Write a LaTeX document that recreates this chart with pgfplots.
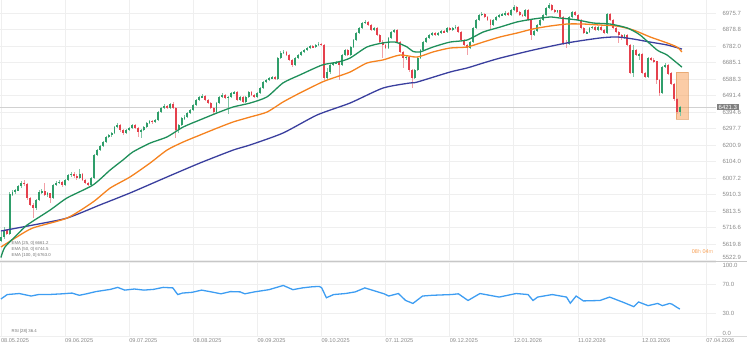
\documentclass[border=0pt]{standalone}
\usepackage{pgfplots}
\pgfplotsset{compat=1.18}
\usepackage{pgfplotstable}
\usepackage{fontspec}
\setmainfont{Liberation Sans}
\definecolor{cup}{HTML}{2F9E6A}
\definecolor{cdn}{HTML}{E5414D}
\definecolor{magreen}{HTML}{1F8F5A}
\definecolor{maorange}{HTML}{F5821F}
\definecolor{manavy}{HTML}{3A3F9E}
\definecolor{rsiblue}{HTML}{3D9DF2}
\definecolor{gridc}{HTML}{EFEFEF}
\definecolor{lblc}{HTML}{8A8A8A}
\definecolor{boxc}{HTML}{F7A35C}

\pgfplotstableread{
i o h l c
0 5640 5690 5630 5661
1 5661 5720 5650 5700
2 5700 5710 5670 5680
3 5680 5925 5675 5910
4 5910 5935 5900 5925
5 5925 5945 5915 5935
6 5935 5968 5928 5960
7 5960 5990 5950 5978
8 5978 5995 5960 5972
9 5972 5980 5880 5890
10 5890 5898 5840 5849
11 5849 5860 5770 5831
12 5831 5885 5820 5878
13 5878 5935 5870 5925
14 5925 5945 5912 5930
15 5930 5975 5900 5907
16 5907 5925 5895 5915
17 5915 5920 5860 5890
18 5890 5972 5885 5966
19 5966 5988 5958 5978
20 5978 5995 5970 5984
21 5984 5990 5955 5966
22 5966 6002 5960 5995
23 5995 6033 5988 6025
24 6025 6042 6015 6031
25 6031 6040 6010 6020
26 6020 6028 5998 6007
27 6007 6060 6000 6031
28 6031 6036 5990 5995
29 5995 6002 5970 5978
30 5978 5985 5960 5970
31 5970 6012 5962 6007
32 6007 6150 6000 6142
33 6142 6180 6135 6172
34 6172 6200 6165 6195
35 6195 6225 6188 6218
36 6218 6255 6210 6248
37 6248 6268 6240 6260
38 6260 6280 6250 6271
39 6271 6312 6265 6307
40 6307 6330 6300 6318
41 6318 6322 6280 6289
42 6289 6295 6262 6271
43 6271 6295 6265 6289
44 6289 6308 6282 6301
45 6301 6326 6295 6318
46 6318 6322 6295 6301
47 6301 6306 6250 6277
48 6277 6296 6240 6289
49 6289 6312 6282 6307
50 6307 6338 6300 6330
51 6330 6350 6322 6342
52 6342 6348 6325 6336
53 6336 6356 6330 6348
54 6348 6400 6340 6395
55 6395 6425 6388 6418
56 6418 6440 6410 6430
57 6430 6436 6410 6418
58 6418 6450 6412 6442
59 6442 6456 6410 6418
60 6418 6425 6242 6289
61 6289 6325 6270 6318
62 6318 6365 6310 6359
63 6359 6375 6350 6365
64 6365 6395 6358 6389
65 6389 6412 6380 6406
66 6406 6442 6400 6436
67 6436 6472 6430 6465
68 6465 6490 6458 6483
69 6483 6500 6475 6488
70 6488 6495 6458 6465
71 6465 6470 6440 6447
72 6447 6452 6410 6418
73 6418 6425 6385 6395
74 6395 6452 6390 6447
75 6447 6490 6440 6483
76 6483 6505 6476 6494
77 6494 6500 6470 6477
78 6477 6490 6380 6483
79 6483 6512 6476 6506
80 6506 6520 6498 6510
81 6510 6515 6458 6465
82 6465 6490 6458 6483
83 6483 6488 6448 6455
84 6455 6490 6448 6483
85 6483 6520 6476 6512
86 6512 6518 6488 6494
87 6494 6500 6476 6483
88 6483 6512 6476 6506
89 6506 6542 6498 6535
90 6535 6578 6528 6571
91 6571 6590 6562 6582
92 6582 6600 6575 6594
93 6594 6606 6586 6600
94 6600 6608 6580 6590
95 6590 6718 6585 6712
96 6712 6750 6705 6741
97 6741 6760 6735 6747
98 6747 6752 6722 6729
99 6729 6735 6692 6700
100 6700 6706 6660 6670
101 6670 6718 6664 6712
102 6712 6736 6705 6729
103 6729 6754 6722 6747
104 6747 6765 6740 6758
105 6758 6776 6750 6770
106 6770 6790 6764 6782
107 6782 6788 6768 6776
108 6776 6795 6770 6788
109 6788 6805 6780 6794
110 6794 6800 6780 6788
111 6788 6792 6580 6594
112 6594 6650 6585 6629
113 6629 6678 6620 6670
114 6670 6690 6662 6682
115 6682 6695 6675 6688
116 6688 6694 6582 6670
117 6670 6735 6664 6729
118 6729 6765 6722 6758
119 6758 6764 6722 6729
120 6729 6782 6722 6776
121 6776 6822 6770 6817
122 6817 6864 6810 6858
123 6858 6894 6850 6888
124 6888 6922 6880 6917
125 6917 6935 6910 6923
126 6923 6928 6898 6905
127 6905 6910 6868 6876
128 6876 6895 6870 6888
129 6888 6892 6840 6847
130 6847 6852 6798 6805
131 6805 6815 6710 6788
132 6788 6794 6762 6770
133 6770 6835 6764 6829
134 6829 6870 6822 6864
135 6864 6882 6856 6876
136 6876 6880 6798 6805
137 6805 6810 6740 6747
138 6747 6752 6653 6712
139 6712 6728 6700 6717
140 6717 6722 6632 6641
141 6641 6648 6535 6594
142 6594 6648 6586 6641
143 6641 6718 6635 6712
144 6712 6764 6705 6758
145 6758 6812 6750 6805
146 6805 6835 6798 6829
147 6829 6852 6822 6847
148 6847 6864 6840 6858
149 6858 6862 6840 6847
150 6847 6864 6840 6858
151 6858 6876 6850 6870
152 6870 6875 6856 6864
153 6864 6894 6858 6888
154 6888 6893 6868 6876
155 6876 6894 6870 6888
156 6888 6905 6880 6894
157 6894 6898 6858 6864
158 6864 6868 6810 6817
159 6817 6822 6780 6788
160 6788 6794 6730 6770
161 6770 6812 6764 6805
162 6805 6894 6800 6888
163 6888 6940 6880 6935
164 6935 6970 6928 6964
165 6964 6980 6956 6970
166 6970 6975 6945 6952
167 6952 6958 6928 6935
168 6935 6940 6880 6905
169 6905 6940 6898 6935
170 6935 6958 6928 6952
171 6952 6970 6945 6964
172 6964 6975 6956 6968
173 6968 6985 6960 6976
174 6976 6982 6956 6964
175 6964 7000 6958 6993
176 6993 7020 6986 7011
177 7011 7016 6975 6982
178 6982 6988 6956 6964
179 6964 6970 6950 6960
180 6960 7000 6954 6993
181 6993 6998 6928 6935
182 6935 6940 6820 6847
183 6847 6876 6840 6870
184 6870 6912 6864 6905
185 6905 6942 6898 6935
186 6935 6970 6928 6964
187 6964 7012 6958 7005
188 7005 7034 6998 7023
189 7023 7028 6986 6993
190 6993 6998 6975 6982
191 6982 6996 6976 6990
192 6990 6995 6945 6952
193 6952 6958 6790 6800
194 6800 6815 6770 6794
195 6794 6958 6788 6952
196 6952 6988 6945 6982
197 6982 6988 6958 6964
198 6964 6970 6928 6935
199 6935 6940 6880 6888
200 6888 6894 6850 6858
201 6858 6870 6850 6864
202 6864 6894 6858 6888
203 6888 6900 6880 6894
204 6894 6898 6868 6876
205 6876 6900 6870 6894
206 6894 6898 6868 6876
207 6876 6882 6850 6858
208 6858 6976 6850 6970
209 6970 6975 6928 6935
210 6935 6940 6880 6888
211 6888 6894 6856 6864
212 6864 6870 6800 6847
213 6847 6852 6820 6829
214 6829 6854 6822 6847
215 6847 6852 6780 6788
216 6788 6795 6615 6624
217 6624 6790 6600 6758
218 6758 6765 6722 6729
219 6729 6742 6700 6735
220 6735 6740 6615 6624
221 6624 6630 6592 6600
222 6600 6718 6594 6712
223 6712 6720 6692 6700
224 6700 6712 6680 6690
225 6690 6695 6560 6582
226 6582 6588 6490 6506
227 6506 6665 6500 6659
228 6659 6682 6652 6670
229 6670 6675 6612 6620
230 6620 6628 6552 6560
231 6560 6566 6460 6470
232 6470 6478 6385 6395
233 6395 6432 6370 6421
}\candles

\pgfplotstableread{
i v
0 5696
11 5731
22.7 5772
34 5849
44.3 5919
57 6013
68.3 6095
79.7 6171
85.5 6201
96.8 6271
108.5 6377
119.8 6447
131.1 6535
140.4 6565
142.8 6570
154.1 6629
160 6653
165.5 6682
171.3 6711
182.6 6758
194.3 6800
205.6 6829
211.4 6835
217 6823
222.8 6805
228.6 6788
233.7 6764
}\manavy

\pgfplotstableread{
i v
0 5602
5.5 5661
11 5714
22.7 5772
31.6 5866
37.5 5948
44.3 6013
51.2 6095
57 6171
62.5 6218
68.3 6259
74.2 6300
79.7 6336
85.5 6365
91.3 6394
96.8 6453
102.6 6506
110.2 6570
114 6594
119.8 6629
125.6 6682
131.1 6700
137 6729
142.8 6717
148.3 6747
154.1 6770
160 6776
165.5 6805
171.3 6835
177.1 6858
182.6 6882
188.4 6899
194.3 6911
199.8 6911
205.6 6905
211.4 6899
217 6876
222.8 6835
228.6 6800
232 6776
233.7 6747
}\maorange

\pgfplotstableread{
i v
0 5540
1.4 5602
5.5 5673
9 5731
16.9 5819
22.7 5890
31.6 5966
37.5 6054
41.9 6113
45.3 6160
51.2 6212
57 6248
62.5 6306
68.3 6348
74.2 6389
79.7 6424
85.5 6447
91.3 6483
96.8 6565
102.6 6612
110.2 6670
115.7 6688
119.8 6711
125.6 6776
131.1 6800
135.3 6805
139.4 6776
141.4 6750
143.8 6747
148.3 6776
154.1 6805
160 6817
165.5 6864
171.3 6893
177.1 6923
182.6 6940
188.4 6952
191.9 6946
197.7 6935
203.2 6917
209 6911
214.9 6888
219.3 6847
225.2 6758
228.6 6729
233.7 6658
}\magreen

\pgfplotstableread{
i v
0 50
2.2 56
6.3 57.4
10.4 54
12.9 56
16.2 56
21.1 57
24.4 58
26.9 55
29.4 57
32.6 60
37.6 63
40.1 65.7
42.5 62
45.8 63.5
49.1 62
52.4 63
55.7 65.7
59 65
60.7 56
62.3 58
65.6 59
68.9 62
72.2 59.6
75.5 57
78.8 60
82.1 59.6
83.7 57
87 59.6
92 62.6
96.9 68.3
100.2 62.6
103.5 65
106.8 66.5
109.3 67
110.1 65
111.7 51.7
114.2 56
118.3 57.4
121.6 59.6
124.9 65
128.2 61
131.5 57
133.1 54
136.4 57.4
138.9 48
141.4 44
144.7 54
148 55
154.6 56
157 57
160.3 48
164.4 57.4
171 52.6
176.8 57.4
180.9 56
182.6 48
184.2 52.6
189.2 56
194.1 52.6
195.4 44.3
197.4 54
199.9 47.4
205.6 48
208.9 52.6
213.9 45
217.2 39.6
218.8 46
222.1 41
225.4 44
227 41
229.5 44
230.3 43
232 38.7
233 36.4
}\rsi

\pgfplotsset{
  chartbase/.style={
    scale only axis, width=716pt,
    xmin=-0.3, xmax=245.4,
    axis line style={draw=none},
    major tick length=0pt,
    xtick={0,22,...,242},
    xmajorgrids, ymajorgrids,
    major grid style={draw=gridc, line width=0.6pt},
    yticklabel pos=right,
    yticklabel style={font=\fontsize{6}{6}\selectfont, text=lblc, anchor=west, xshift=3pt},
    clip=true,
  },
  candle/.style n args={2}{draw=none, mark=none, forget plot,
    /pgfplots/error bars/y dir=both, /pgfplots/error bars/y explicit,
    /pgfplots/error bars/error mark=none,
    /pgfplots/error bars/error bar style={draw=#1, line width=#2}},
}

\begin{document}
\begin{tikzpicture}
\path[use as bounding box] (0,0) rectangle (747pt,352pt);
% ---------------- price panel
\begin{axis}[chartbase, at={(0pt,352pt)}, anchor=north west, height=261pt,
  ymin=5520, ymax=7052,
  xticklabels={},
  ytick={5522.9,5619.8,5716.6,5813.5,5910.3,6007.2,6104.0,6200.9,6297.7,6394.6,6491.4,6588.3,6685.1,6782.0,6878.8,6975.7},
  yticklabels={\raisebox{1.3pt}[0pt][0pt]{5522.9},5619.8,5716.6,5813.5,5910.3,6007.2,6104.0,6200.9,6297.7,6394.6,6491.4,6588.3,6685.1,6782.0,6878.8,6975.7},
]
% current price line
\addplot[draw=black!18, line width=0.6pt] coordinates {(-0.3,6421.3) (245.4,6421.3)};
% highlight box
\addplot[fill=boxc, fill opacity=0.55, draw=boxc!90!black, draw opacity=0.6, line width=0.4pt]
  coordinates {(231.7,6353) (235.8,6353) (235.8,6629) (231.7,6629)} -- cycle;
% wicks
\addplot[restrict expr to domain={\thisrow{c}-\thisrow{o}}{0:100000}, candle={cup!60}{0.45pt}]
  table[x=i, y expr={(\thisrow{h}+\thisrow{l})/2}, y error expr={(\thisrow{h}-\thisrow{l})/2}] {\candles};
\addplot[restrict expr to domain={\thisrow{o}-\thisrow{c}}{0.001:100000}, candle={cdn!50}{0.45pt}]
  table[x=i, y expr={(\thisrow{h}+\thisrow{l})/2}, y error expr={(\thisrow{h}-\thisrow{l})/2}] {\candles};
% bodies
\addplot[restrict expr to domain={\thisrow{c}-\thisrow{o}}{0:100000}, candle={cup}{1.9pt}]
  table[x=i, y expr={(\thisrow{o}+\thisrow{c})/2}, y error expr={abs(\thisrow{c}-\thisrow{o})/2+1.5}] {\candles};
\addplot[restrict expr to domain={\thisrow{o}-\thisrow{c}}{0.001:100000}, candle={cdn}{1.9pt}]
  table[x=i, y expr={(\thisrow{o}+\thisrow{c})/2}, y error expr={abs(\thisrow{c}-\thisrow{o})/2+1.5}] {\candles};
% moving averages
\addplot[draw=manavy, line width=1.3pt, smooth, tension=0.4] table[x=i,y=v] {\manavy};
\addplot[draw=maorange, line width=1.3pt, smooth, tension=0.4] table[x=i,y=v] {\maorange};
\addplot[draw=magreen, line width=1.3pt, smooth, tension=0.4] table[x=i,y=v] {\magreen};
% texts
\node[anchor=west, inner sep=0pt, font=\fontsize{4.3}{4.3}\selectfont, text=black!55] at (rel axis cs:0.016,0.069) {EMA [25, 0] 6661.2};
\node[anchor=west, inner sep=0pt, font=\fontsize{4.3}{4.3}\selectfont, text=black!55] at (rel axis cs:0.016,0.046) {EMA [50, 0] 6744.5};
\node[anchor=west, inner sep=0pt, font=\fontsize{4.3}{4.3}\selectfont, text=black!55] at (rel axis cs:0.016,0.023) {EMA [100, 0] 6763.0};
\node[anchor=west, inner sep=0pt, font=\fontsize{5.5}{5.5}\selectfont] at (rel axis cs:0.966,0.035) {\textcolor{maorange!80}{08}\textcolor{maorange!55}{h} \textcolor{maorange!80}{04}\textcolor{maorange!55}{m}};
\end{axis}
% price marker (outside clip)
\node[anchor=west, fill=black!50, text=white, inner xsep=1.5pt, inner ysep=1pt, font=\fontsize{6}{6}\selectfont] at (717pt,245pt) {6421.3};
% separators
\draw[black!22, line width=0.6pt] (0pt,91pt) -- (747pt,91pt);
\draw[black!15, line width=0.5pt] (0pt,16pt) -- (747pt,16pt);
% ---------------- RSI panel
\begin{axis}[chartbase, at={(0pt,90pt)}, anchor=north west, height=74pt,
  ymin=0, ymax=100,
  ytick={0,30,70,100}, yticklabels={\raisebox{0.8pt}[0pt][0pt]{0.0},30.0,70.0,\raisebox{-5.2pt}[0pt][0pt]{100.0}},
  xticklabels={08.05.2025,09.06.2025,09.07.2025,08.08.2025,09.09.2025,09.10.2025,07.11.2025,09.12.2025,12.01.2026,11.02.2026,12.03.2026,07.04.2026},
  xticklabel style={font=\fontsize{5.6}{5.6}\selectfont, text=lblc, anchor=north west, inner sep=0pt, yshift=-2pt},
]
\addplot[draw=rsiblue, line width=1.3pt] table[x=i,y=v] {\rsi};
\node[anchor=west, inner sep=0pt, font=\fontsize{4.3}{4.3}\selectfont, text=black!55] at (rel axis cs:0.016,0.06) {RSI [28] 36.4};
\end{axis}
\end{tikzpicture}
\end{document}
